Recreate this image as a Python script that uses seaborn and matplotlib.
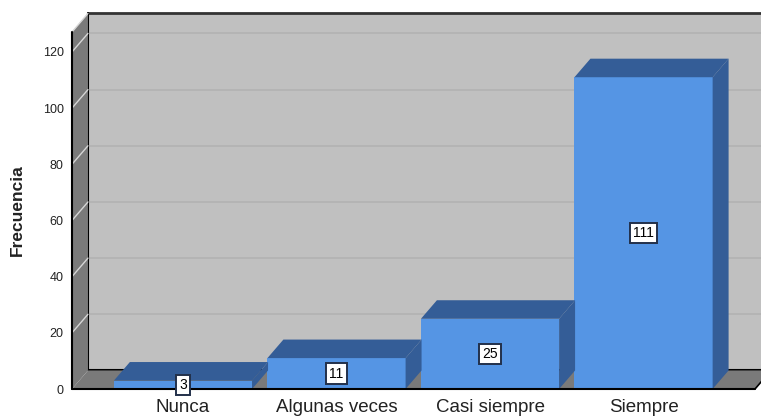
import numpy as np
import pandas as pd
import matplotlib
matplotlib.use("Agg")
import matplotlib.pyplot as plt
from matplotlib.patches import Polygon
import seaborn as sns

categorias = ["Nunca", "Algunas veces", "Casi siempre", "Siempre"]
frecuencias = [3, 11, 25, 111]
yticks = [0, 20, 40, 60, 80, 100, 120]

sns.set_style("white")
plt.rcParams["font.family"] = ["Liberation Sans", "DejaVu Sans"]

df = pd.DataFrame({"categoria": categorias, "frecuencia": frecuencias})

# colores tipo SPSS
azul = "#5595e4"
azul_osc = "#345d97"
pared = "#c0c0c0"
suelo = "#7a7a7a"

fig = plt.figure(figsize=(7.61, 4.17), dpi=100)
ax = fig.add_axes([72 / 761, 28 / 417, 683 / 761, 357 / 417])

xmin, xmax = -0.723, 3.726
ymax = 127.1
dx, dy = 0.104, 6.6   # profundidad del efecto 3D (en unidades de datos)
ancho = 0.9

ax.set_xlim(xmin, xmax)
ax.set_ylim(0, ymax)

# pared del fondo
ax.add_patch(Polygon([(xmin + dx, dy), (xmax + dx, dy), (xmax + dx, ymax + dy),
                      (xmin + dx, ymax + dy)], closed=True, fc=pared, ec="none",
                     zorder=0, clip_on=False))
for t in yticks[1:]:
    ax.plot([xmin + dx, xmax + dx], [t + dy, t + dy], color="#b3b3b3", lw=1.3,
            zorder=0.5, clip_on=False)
ax.plot([xmin + dx, xmax + dx], [ymax + dy, ymax + dy], color="#333333", lw=2,
        zorder=0.6, clip_on=False)
ax.plot([xmin + dx, xmin + dx, xmax + dx], [ymax + dy, dy, dy], color="black",
        lw=1.5, zorder=0.6, clip_on=False)

# pared lateral y suelo
ax.add_patch(Polygon([(xmin, 0), (xmin + dx, dy), (xmin + dx, ymax + dy), (xmin, ymax)],
                     closed=True, fc=suelo, ec="none", zorder=1, clip_on=False))
for t in yticks[1:]:
    ax.plot([xmin, xmin + dx], [t, t + dy], color="#d6d6d6", lw=1, zorder=1.1,
            clip_on=False)
ax.plot([xmin, xmin + dx], [ymax, ymax + dy], color="#d6d6d6", lw=1, zorder=1.1,
        clip_on=False)
ax.add_patch(Polygon([(xmin, 0), (xmax, 0), (xmax + dx, dy), (xmin + dx, dy)],
                     closed=True, fc=suelo, ec="none", zorder=1, clip_on=False))
ax.plot([xmax, xmax + dx], [0, dy], color="black", lw=1.2, zorder=1.2, clip_on=False)

# barras: cara frontal con seaborn
sns.barplot(data=df, x="categoria", y="frecuencia", color=azul, saturation=1,
            width=ancho, ax=ax, zorder=3, edgecolor="none", linewidth=0)
ax.set_xlim(xmin, xmax)
ax.set_ylim(0, ymax)

# caras superior y lateral
for i, v in enumerate(frecuencias):
    x0, x1 = i - ancho / 2, i + ancho / 2
    ax.add_patch(Polygon([(x0, v), (x1, v), (x1 + dx, v + dy), (x0 + dx, v + dy)],
                         closed=True, fc=azul_osc, ec="none", zorder=3, clip_on=False))
    ax.add_patch(Polygon([(x1, 0), (x1 + dx, dy), (x1 + dx, v + dy), (x1, v)],
                         closed=True, fc=azul_osc, ec="none", zorder=3, clip_on=False))
    ax.text(i, v / 2, str(v), ha="center", va="center", fontsize=10, color="black",
            zorder=5, bbox=dict(boxstyle="square,pad=0.22", fc="white",
                                ec="#22304a", lw=1.4))

# ejes frontales
ax.plot([xmin, xmin], [0, ymax], color="black", lw=1.5, zorder=4, clip_on=False)
ax.plot([xmin, xmax], [0, 0], color="black", lw=1.5, zorder=4, clip_on=False)

for s in ax.spines.values():
    s.set_visible(False)
ax.set_yticks(yticks)
ax.set_yticklabels([str(t) for t in yticks], fontsize=9, color="#222222")
ax.tick_params(axis="y", length=0, pad=6)
ax.tick_params(axis="x", length=0, pad=7, labelsize=13.5, labelcolor="#222222")
ax.set_xlabel("")
ax.set_ylabel("")
ax.grid(False)

fig.text(17 / 761, 1 - 210 / 417, "Frecuencia", rotation=90, ha="center",
         va="center", fontsize=12.5, fontweight="bold", color="#222222")

fig.savefig("out.png", dpi=100)
